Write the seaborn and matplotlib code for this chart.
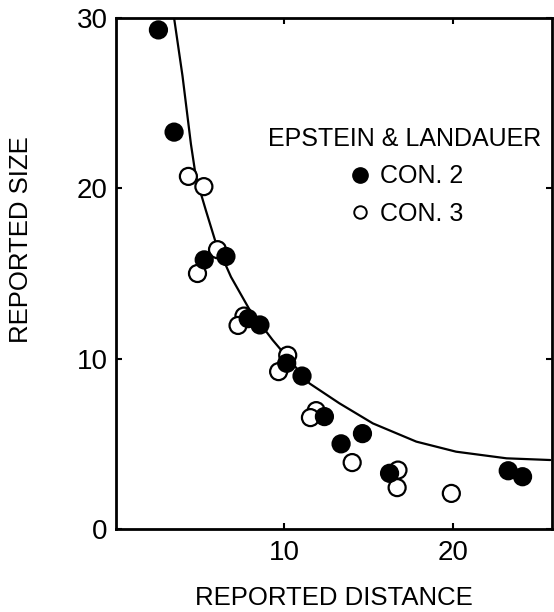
import matplotlib
matplotlib.use("Agg")
import matplotlib.pyplot as plt
from matplotlib.lines import Line2D
import pandas as pd
import seaborn as sns

# values
con2_dist = [2.52, 3.45, 5.24, 6.53, 7.85, 8.55, 10.14, 11.05, 12.38, 13.37, 14.64, 16.25, 23.3, 24.15]
con2_size = [29.3, 23.3, 15.8, 16.0, 12.35, 11.98, 9.73, 8.98, 6.6, 5.0, 5.6, 3.27, 3.42, 3.07]

con3_dist = [4.3, 5.22, 6.03, 4.84, 7.6, 7.25, 10.2, 9.66, 11.89, 11.55, 14.03, 16.75, 16.7, 19.92]
con3_size = [20.7, 20.1, 16.4, 15.0, 12.5, 11.95, 10.2, 9.24, 6.95, 6.54, 3.9, 3.46, 2.43, 2.09]

# fitted curve
curve_dist = [3.45, 3.95, 4.45, 4.74, 5.34, 5.93, 6.83, 7.92, 9.3, 10.2, 11.49, 13.27, 15.26, 17.84, 20.2, 23.2, 25.8]
curve_size = [30.0, 26.6, 22.6, 20.7, 18.7, 16.8, 14.8, 12.9, 11.1, 10.05, 8.55, 7.38, 6.2, 5.13, 4.54, 4.15, 4.05]

x_ticks = [10, 20]
y_ticks = [0, 10, 20, 30]

# open circles first so filled ones sit on top
df = pd.DataFrame({
    "dist": con3_dist + con2_dist,
    "size": con3_size + con2_size,
    "cond": ["CON. 3"] * len(con3_dist) + ["CON. 2"] * len(con2_dist),
})
curve = pd.DataFrame({"dist": curve_dist, "size": curve_size})

sns.set_style("ticks")
plt.rcParams["font.family"] = ["Liberation Sans", "DejaVu Sans"]
plt.rcParams["text.color"] = "black"
plt.rcParams["axes.labelcolor"] = "black"

fig = plt.figure(figsize=(5.54, 6.12), dpi=100)
ax = fig.add_axes([0.2094, 0.1356, 0.787, 0.835])

sns.lineplot(data=curve, x="dist", y="size", sort=False, estimator=None,
             color="black", linewidth=1.6, ax=ax, zorder=2)
sns.scatterplot(data=df, x="dist", y="size", hue="cond",
                palette={"CON. 2": "black", "CON. 3": "white"},
                edgecolor="black", linewidth=1.6, s=150, legend=False,
                ax=ax, zorder=3)

ax.set_xlim(0, 25.9)
ax.set_ylim(0, 30)
ax.set_xticks(x_ticks)
ax.set_yticks(y_ticks)
ax.tick_params(direction="in", length=4, width=1.5, top=True, right=True,
               labelsize=20, colors="black")
ax.tick_params(axis="x", pad=8)
ax.tick_params(axis="y", pad=6)
for sp in ax.spines.values():
    sp.set_linewidth(2)
    sp.set_color("black")

ax.set_xlabel("REPORTED DISTANCE", fontsize=18.5)
ax.set_ylabel("REPORTED SIZE", fontsize=18.5)
ax.xaxis.set_label_coords(0.5, -0.112)
ax.yaxis.set_label_coords(-0.19, 0.567)

handles = [
    Line2D([], [], marker="o", linestyle="", markersize=11,
           markerfacecolor="black", markeredgecolor="black"),
    Line2D([], [], marker="o", linestyle="", markersize=9,
           markerfacecolor="white", markeredgecolor="black", markeredgewidth=1.4),
]
leg = ax.legend(handles, ["CON. 2", "CON. 3"], title="EPSTEIN & LANDAUER",
                loc="center", bbox_to_anchor=(0.663, 0.69), frameon=False,
                fontsize=18, title_fontsize=18, handletextpad=0.3,
                handlelength=1.0, labelspacing=0.55, borderpad=0)

fig.savefig("out.png", dpi=100, facecolor="white")
